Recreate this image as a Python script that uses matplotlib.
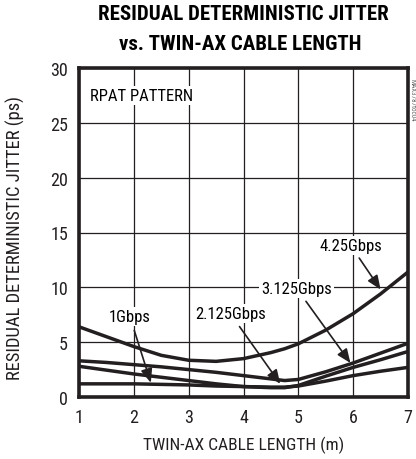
import matplotlib
matplotlib.use("Agg")
import matplotlib.pyplot as plt
from matplotlib import font_manager as fm

names = {f.name for f in fm.fontManager.ttflist}
def pick(cands):
    for c in cands:
        if c in names:
            return c
    return 'DejaVu Sans'
NARROW = pick(['Roboto Condensed', 'Archivo Narrow', 'Arimo', 'DejaVu Sans'])
TITLE = pick(['Roboto Condensed', 'Archivo Narrow', 'Barlow Condensed', 'DejaVu Sans'])
plt.rcParams['font.family'] = [NARROW, 'DejaVu Sans']

x_len = [1, 1.5, 2, 2.5, 3, 3.5, 4, 4.5, 4.75, 5, 5.5, 6, 6.5, 7]
j_425 = [6.4, 5.5, 4.6, 3.8, 3.35, 3.25, 3.5, 4.05, 4.4, 4.85, 6.1, 7.6, 9.4, 11.4]
j_3125 = [3.3, 3.15, 2.95, 2.75, 2.5, 2.25, 1.95, 1.65, 1.5, 1.6, 2.3, 3.1, 4.0, 4.9]
j_2125 = [2.8, 2.45, 2.1, 1.8, 1.5, 1.2, 0.95, 0.85, 0.85, 1.05, 1.9, 2.7, 3.4, 4.15]
j_1 = [1.2, 1.2, 1.2, 1.15, 1.1, 1.0, 0.95, 0.9, 0.9, 1.0, 1.45, 1.95, 2.35, 2.7]

x_ticks = [1, 2, 3, 4, 5, 6, 7]
y_ticks = [0, 5, 10, 15, 20, 25, 30]

fig = plt.figure(figsize=(4.16, 4.6), dpi=100)
ax = fig.add_axes([79/416, 1-398/460, (408-79)/416, (398-69)/460])

for y in [j_425, j_3125, j_2125, j_1]:
    ax.plot(x_len, y, color='#231f20', lw=2.5, solid_capstyle='butt', zorder=3)

ax.set_xlim(1, 7)
ax.set_ylim(0, 30)
ax.set_xticks(x_ticks)
ax.set_yticks(y_ticks)
ax.grid(True, color='#231f20', lw=0.9)
ax.tick_params(length=0, labelsize=13, pad=8, colors='#231f20')
for s in ax.spines.values():
    s.set_linewidth(2.6)
    s.set_color('#231f20')

ax.set_xlabel('TWIN-AX CABLE LENGTH (m)', fontsize=12.5, color='#231f20', labelpad=7)
ax.set_ylabel('RESIDUAL DETERMINISTIC JITTER (ps)', fontsize=13.3, color='#231f20')
ax.yaxis.set_label_coords(-0.164, 0.486)

fig.text(243/416, 1-15/460, 'RESIDUAL DETERMINISTIC JITTER', ha='center', va='center',
         fontsize=15, fontweight='heavy', family=[TITLE, 'DejaVu Sans'], color='#000000')
fig.text(240/416, 1-44/460, 'vs. TWIN-AX CABLE LENGTH', ha='center', va='center',
         fontsize=15, fontweight='heavy', family=[TITLE, 'DejaVu Sans'], color='#000000')

bbox = dict(facecolor='white', edgecolor='none', pad=1.5)
ax.text(1.2, 27.5, 'RPAT PATTERN', fontsize=12, va='center', ha='left', bbox=bbox, zorder=4)

ann = [('1Gbps', (1.93, 7.3), (2.31, 1.3)),
       ('2.125Gbps', (3.76, 7.6), (4.67, 1.2)),
       ('3.125Gbps', (4.97, 9.9), (5.95, 3.1)),
       ('4.25Gbps', (5.95, 13.85), (6.5, 9.8))]
for lab, tpos, apos in ann:
    ax.annotate(lab, xy=apos, xytext=tpos, fontsize=12, ha='center', va='center',
                bbox=bbox, zorder=5,
                arrowprops=dict(arrowstyle='-|>,head_length=0.6,head_width=0.25',
                                color='#231f20', lw=1.2,
                                mutation_scale=14, shrinkA=3, shrinkB=0))

fig.text(412/416, 1-100/460, 'MAX3787toc04', rotation=270, fontsize=5, color='#666666',
         ha='center', va='center')

fig.savefig('out.png', dpi=100)
